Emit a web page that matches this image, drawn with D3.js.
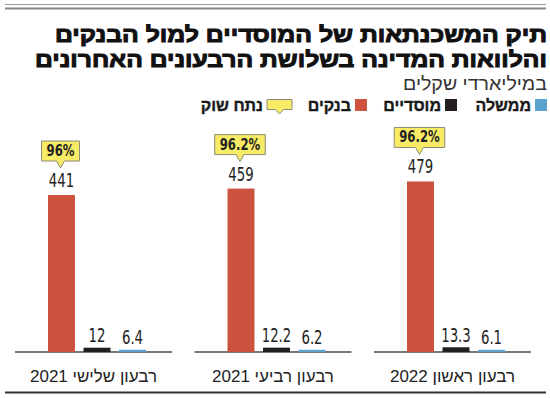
<!DOCTYPE html>
<html>
<head>
<meta charset="utf-8">
<script src="https://cdn.jsdelivr.net/npm/d3@7"></script>
<style>
  body { margin: 0; background: #fff; }
  svg { display: block; }
  .num { font-family: "DejaVu Sans", "Liberation Sans", sans-serif; }
  .heb { font-family: "Liberation Sans", "DejaVu Sans", sans-serif; }
</style>
</head>
<body>
<svg id="chart" width="550" height="398"></svg>
<script>
// data
const quarters = ["רבעון שלישי 2021", "רבעון רביעי 2021", "רבעון ראשון 2022"];
const series = ["בנקים", "מוסדיים", "ממשלה"];
const banks = [441, 459, 479];
const institutions = [12, 12.2, 13.3];
const government = [6.4, 6.2, 6.1];
const bankShare = ["96%", "96.2%", "96.2%"];
const titleLines = ["תיק המשכנתאות של המוסדיים למול הבנקים", "והלוואות המדינה בשלושת הרבעונים האחרונים"];
const subtitle = "במיליארדי שקלים";
const legendLabels = ["ממשלה", "מוסדיים", "בנקים", "נתח שוק"];

const colors = { "בנקים": "#cc5240", "מוסדיים": "#231f20", "ממשלה": "#5ba2cf" };
const calloutFill = "#f8ec66";
const calloutStroke = "#8c8a78";

const svg = d3.select("#chart");

// narrow number text: squeeze horizontally since no condensed face is installed
function narrowText(parent, x, y, str, size, weight, sx) {
  const g = parent.append("g").attr("transform", `translate(${x},${y}) scale(${sx},1)`);
  const t = g.append("text").attr("class", "num")
    .attr("text-anchor", "middle")
    .attr("font-size", size).attr("font-weight", weight)
    .attr("fill", "#222")
    .text(str);
  return t.node().getComputedTextLength() * sx;
}

// top rules
svg.append("line").attr("x1", 5).attr("x2", 546).attr("y1", 4.5).attr("y2", 4.5)
  .attr("stroke", "#9a9a9a").attr("stroke-width", 1);
svg.append("line").attr("x1", 5).attr("x2", 546).attr("y1", 8.5).attr("y2", 8.5)
  .attr("stroke", "#8a8a8a").attr("stroke-width", 2);

// title, two lines in one text block
const titleLeft = [55, 35];
const title = svg.append("text").attr("class", "heb")
  .attr("text-anchor", "end")
  .attr("font-size", 21).attr("font-weight", 900)
  .attr("fill", "#111")
  .attr("stroke", "#111").attr("stroke-width", 1);
titleLines.forEach((t, i) => {
  title.append("tspan")
    .attr("x", 547).attr("y", 42 + i * 24.5)
    .attr("textLength", 547 - titleLeft[i]).attr("lengthAdjust", "spacingAndGlyphs")
    .text(t);
});

svg.append("text").attr("class", "heb")
  .attr("x", 547).attr("y", 90)
  .attr("text-anchor", "end")
  .attr("font-size", 19).attr("fill", "#333")
  .attr("textLength", 144).attr("lengthAdjust", "spacingAndGlyphs")
  .text(subtitle);

// callout shape (box + pointer)
function calloutPath(x0, x1, y0, y1, tip) {
  const cx = (x0 + x1) / 2;
  return `M${x0},${y0}H${x1}V${y1}H${cx + 4}L${cx},${tip}L${cx - 4},${y1}H${x0}Z`;
}

// legend
const legendRight = [547, 457, 367, 292];
const legendKeys = ["ממשלה", "מוסדיים", "בנקים"];
const legend = svg.append("g");
legendLabels.forEach((lab, i) => {
  const r = legendRight[i];
  let left;
  if (i < 3) {
    legend.append("rect").attr("x", r - 12).attr("y", 99).attr("width", 12).attr("height", 12)
      .attr("fill", colors[legendKeys[i]]);
    left = r - 12;
  } else {
    legend.append("path").attr("d", calloutPath(r - 25, r, 99.5, 109.5, 114))
      .attr("fill", calloutFill).attr("stroke", calloutStroke).attr("stroke-width", 1);
    left = r - 25;
  }
  legend.append("text").attr("class", "heb")
    .attr("x", left - 4).attr("y", 111)
    .attr("text-anchor", "end")
    .attr("font-size", 16).attr("font-weight", "bold").attr("fill", "#1a1a1a")
    .attr("stroke", "#1a1a1a").attr("stroke-width", 0.4)
    .text(lab);
});

// scales
const x0 = d3.scaleBand().domain(quarters).range([15, 531]).paddingInner(0.1253);
const x1 = d3.scaleBand().domain(series).range([33, 131]).paddingInner(0.24);
const y = d3.scaleLinear().domain([0, 500]).range([352, 174]);

const rows = quarters.map((q, i) => ({
  quarter: q,
  share: bankShare[i],
  values: [
    { key: series[0], value: banks[i] },
    { key: series[1], value: institutions[i] },
    { key: series[2], value: government[i] }
  ]
}));

const groups = svg.append("g").selectAll("g")
  .data(rows).enter().append("g")
  .attr("transform", d => `translate(${x0(d.quarter)},0)`);

// baseline per panel
groups.append("line")
  .attr("x1", 0).attr("x2", x0.bandwidth())
  .attr("y1", y(0)).attr("y2", y(0))
  .attr("stroke", "#4a4a4a").attr("stroke-width", 1.5);

groups.selectAll("rect.bar")
  .data(d => d.values).enter().append("rect")
  .attr("class", "bar")
  .attr("x", d => x1(d.key))
  .attr("y", d => y(d.value))
  .attr("width", x1.bandwidth())
  .attr("height", d => y(0) - y(d.value))
  .attr("fill", d => colors[d.key]);

// value labels
groups.each(function (d) {
  const g = d3.select(this);
  d.values.forEach(v => {
    narrowText(g, x1(v.key) + x1.bandwidth() / 2, y(v.value) - (v.value > 100 ? 8 : 5.5),
      v.value, 19, "normal", 0.7);
  });
});

// market share callouts above bank bars
groups.each(function (d) {
  const g = d3.select(this);
  const bank = d.values[0];
  const cx = x1(bank.key) + x1.bandwidth() / 2 - 1;
  const top = y(bank.value);
  const box = g.append("path");
  const w = narrowText(g, cx, top - 39, d.share, 15, "bold", 0.78) + 10;
  box.attr("d", calloutPath(cx - w / 2, cx + w / 2, top - 54, top - 34, top - 27))
    .attr("fill", calloutFill).attr("stroke", calloutStroke).attr("stroke-width", 1);
});

// category labels
groups.append("text").attr("class", "heb")
  .attr("x", x0.bandwidth() / 2).attr("y", 381.5)
  .attr("direction", "rtl")
  .attr("text-anchor", "middle")
  .attr("font-size", 17).attr("fill", "#222")
  .text(d => d.quarter);

// bottom rule
svg.append("line").attr("x1", 5).attr("x2", 546).attr("y1", 392.5).attr("y2", 392.5)
  .attr("stroke", "#333").attr("stroke-width", 2);
</script>
</body>
</html>
